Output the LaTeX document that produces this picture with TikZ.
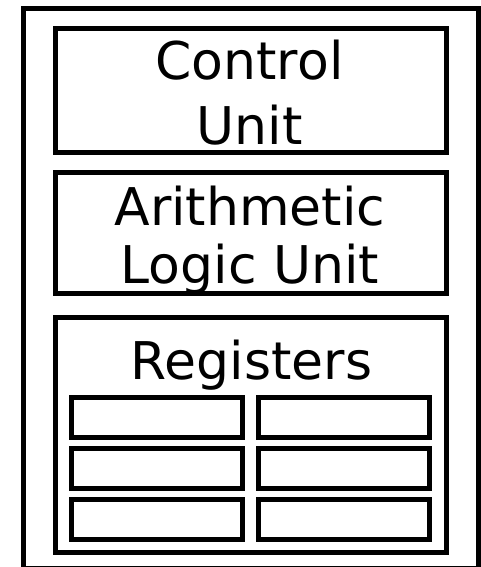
\documentclass[tikz,border=0pt]{standalone}
\usepackage{fontspec}
\setmainfont{DejaVu Sans}
\begin{document}
\begin{tikzpicture}[x=1bp, y=-1bp,
  frame/.style={draw=black, line width=5bp, inner sep=0pt, outer sep=0pt},
  unitbox/.style={frame, minimum width=390.7bp},
  cell/.style={frame, minimum width=170.5bp, minimum height=40.5bp},
  label/.style={anchor=base, inner sep=0pt, font=\fontsize{52bp}{65bp}\selectfont}]
  \useasboundingbox (0,0) rectangle (481,567);
  % CPU outline
  \node[frame, minimum width=455bp, minimum height=560bp] (cpu) at (251,288.5) {};
  % functional units
  \node[unitbox, minimum height=123bp] (cu) at (251.35,90.5) {};
  \node[unitbox, minimum height=121bp] (alu) at (251.35,233) {};
  \node[unitbox, minimum height=235bp] (regs) at (251.35,435) {};
  % texts
  \node[label] (cu1) at (249.5,80) {Control};
  \node[label] (cu2) at (249.5,145) {Unit};
  \node[label] (alu1) at (250,225) {Arithmetic};
  \node[label] (alu2) at (250,283.5) {Logic Unit};
  \node[label] (regt) at (251.5,379.3) {Registers};
  % register cells
  \node[cell] (r11) at (156.75,417.5) {};
  \node[cell] (r12) at (344,417.5) {};
  \node[cell] (r21) at (156.75,468.25) {};
  \node[cell] (r22) at (344,468.25) {};
  \node[cell] (r31) at (156.75,519.25) {};
  \node[cell] (r32) at (344,519.25) {};
\end{tikzpicture}
\end{document}
